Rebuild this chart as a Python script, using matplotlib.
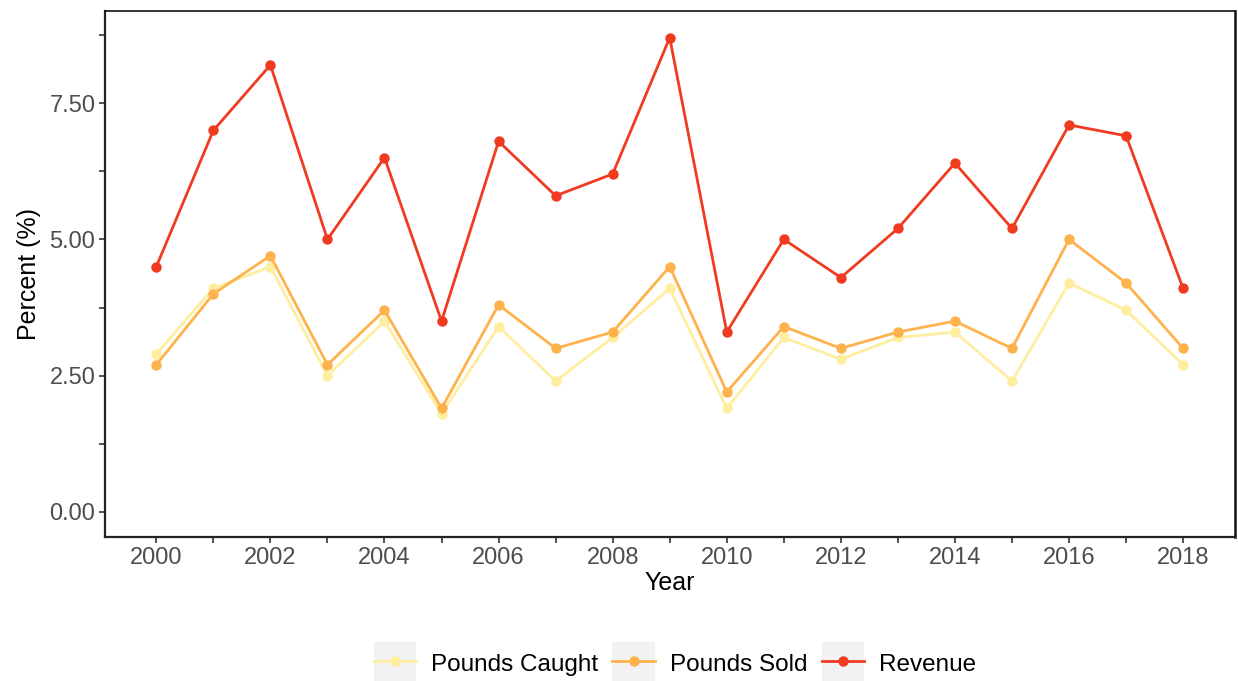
import matplotlib
matplotlib.use("Agg")
import matplotlib.pyplot as plt
from matplotlib.legend_handler import HandlerLine2D
from matplotlib.patches import Rectangle
from matplotlib.ticker import MultipleLocator, FormatStrFormatter

plt.rcParams['font.family'] = ['Liberation Sans', 'DejaVu Sans']

years = list(range(2000, 2019))
pounds_caught = [2.9, 4.1, 4.5, 2.5, 3.5, 1.8, 3.4, 2.4, 3.2, 4.1, 1.9, 3.2, 2.8, 3.2, 3.3, 2.4, 4.2, 3.7, 2.7]
pounds_sold = [2.7, 4.0, 4.7, 2.7, 3.7, 1.9, 3.8, 3.0, 3.3, 4.5, 2.2, 3.4, 3.0, 3.3, 3.5, 3.0, 5.0, 4.2, 3.0]
revenue = [4.5, 7.0, 8.2, 5.0, 6.5, 3.5, 6.8, 5.8, 6.2, 8.7, 3.3, 5.0, 4.3, 5.2, 6.4, 5.2, 7.1, 6.9, 4.1]

series_names = ["Pounds Caught", "Pounds Sold", "Revenue"]
series_colors = ["#FFEDA0", "#FEB24C", "#F03B20"]


class KeyHandler(HandlerLine2D):
    # ggplot-style legend key: grey square behind line + point
    def create_artists(self, legend, orig_handle, xdescent, ydescent,
                       width, height, fontsize, trans):
        bg = Rectangle((-xdescent, -ydescent - 0.35 * height), width, height * 1.7,
                       facecolor="#F2F2F2", edgecolor="none", transform=trans)
        arts = super().create_artists(legend, orig_handle, xdescent, ydescent,
                                      width, height, fontsize, trans)
        return [bg] + list(arts)


fig = plt.figure(figsize=(12.38, 6.81), dpi=100)
ax = fig.add_axes([0.0848, 0.2115, 0.9128, 0.7723])

for vals, name, col in zip([pounds_caught, pounds_sold, revenue], series_names, series_colors):
    ax.plot(years, vals, color=col, linewidth=2, marker='o', markersize=7.5,
            markeredgewidth=0, label=name)

ax.set_xlim(1999.1, 2018.91)
ax.set_ylim(-0.46, 9.19)

ax.xaxis.set_major_locator(MultipleLocator(2))
ax.xaxis.set_minor_locator(MultipleLocator(1))
ax.yaxis.set_major_locator(MultipleLocator(2.5))
ax.yaxis.set_minor_locator(MultipleLocator(1.25))
ax.yaxis.set_major_formatter(FormatStrFormatter('%.2f'))

ax.tick_params(which='both', direction='out', length=4, width=1.2, color='#333333',
               labelsize=17, labelcolor='#4D4D4D', pad=3)
ax.tick_params(which='minor', labelbottom=False, labelleft=False)

for side in ['left', 'bottom']:
    ax.spines[side].set_linewidth(1.6)
    ax.spines[side].set_color('#222222')
ax.spines['top'].set_linewidth(1.2)
ax.spines['top'].set_color('#111111')
ax.spines['right'].set_linewidth(1.8)
ax.spines['right'].set_color('#111111')

# faint white notches on the top / right border at tick positions
sec_x = ax.secondary_xaxis('top')
sec_x.xaxis.set_major_locator(MultipleLocator(1))
sec_x.tick_params(direction='in', length=2, width=1, color='white', labeltop=False)
sec_x.spines['top'].set_visible(False)
sec_y = ax.secondary_yaxis('right')
sec_y.yaxis.set_major_locator(MultipleLocator(1.25))
sec_y.tick_params(direction='in', length=2, width=1, color='white', labelright=False)
sec_y.spines['right'].set_visible(False)

ax.set_xlabel("Year", fontsize=18, color='black', labelpad=2)
ax.set_ylabel("Percent (%)", fontsize=18, color='black', labelpad=6)

handles, labels = ax.get_legend_handles_labels()
fig.legend(handles, labels, loc='center', bbox_to_anchor=(0.545, 0.026), ncol=3,
           frameon=False, fontsize=17.5, handlelength=1.75, handleheight=1.2,
           handletextpad=0.6, columnspacing=0.6,
           handler_map={h: KeyHandler(numpoints=1) for h in handles})

fig.savefig("out.png", dpi=100)
